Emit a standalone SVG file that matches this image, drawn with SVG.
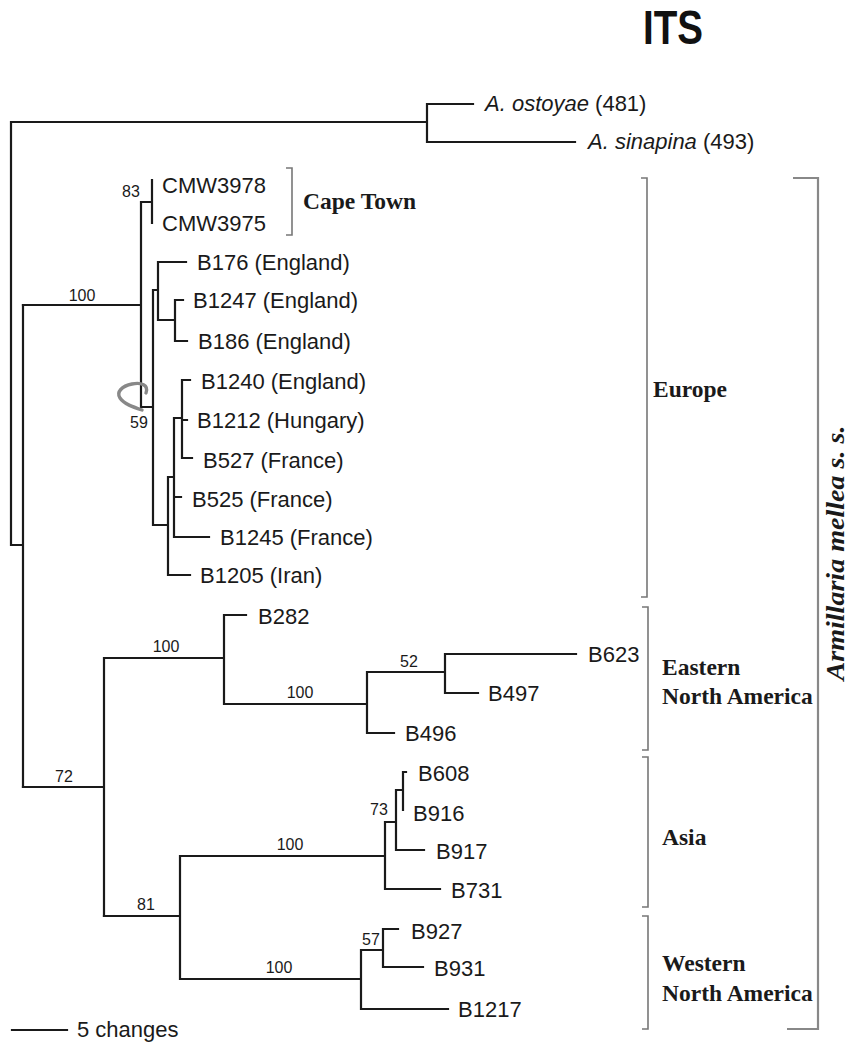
<svg xmlns="http://www.w3.org/2000/svg" width="849" height="1042" viewBox="0 0 849 1042">
<style>
.t{fill:none;stroke:#1a1a1a;stroke-width:2.2;stroke-linecap:square}
.br{fill:none;stroke:#777;stroke-width:1.6}
.br2{fill:none;stroke:#888;stroke-width:2.2}
.lf{font-family:"Liberation Sans",Arial,sans-serif;font-size:22px;fill:#1a1a1a}
.bs{font-family:"Liberation Sans",Arial,sans-serif;font-size:16px;fill:#1a1a1a;text-anchor:middle}
.grp{font-family:"Liberation Serif","Times New Roman",serif;font-size:23.5px;font-weight:bold;fill:#1a1a1a}
</style>
<rect width="849" height="1042" fill="#fff"/>
<text x="643" y="44" font-family="Liberation Sans,Arial,sans-serif" font-weight="bold" font-size="48" fill="#111" textLength="60" lengthAdjust="spacingAndGlyphs">ITS</text>

<g id="connectors">
<path class="t" d="M11,122 V545 M11,122 H427 M427,104 V142 M427,104 H473 M427,142 H575 M11,545 H23 M23,305 V787"/>
<path class="t" d="M23,305 H141 M141,202 V407 M141,202 H152 M152,180 V223 M141,407 H153 M153,290 V525 M153,290 H158 M158,262 V320 M158,262 H186 M158,320 H175 M175,300 V341 M175,300 H183 M175,341 H187 M153,525 H168 M168,477 V575 M168,575 H190 M168,477 H174 M174,418 V537 M174,497 H181 M174,537 H209 M174,418 H182 M182,380 V458 M182,380 H190 M182,420 H187 M182,458 H192"/>
<path class="t" d="M23,787 H104 M104,658 V916 M104,658 H224 M224,615 V704 M224,615 H246 M224,704 H367 M367,672 V733 M367,733 H394 M367,672 H445 M445,654 V693 M445,654 H576 M445,693 H478"/>
<path class="t" d="M104,916 H180 M180,856 V979 M180,856 H385 M385,822 V889 M385,889 H440 M385,822 H396 M396,790 V850 M396,850 H424 M396,790 H403 M403,772 V810 M403,772 H406 M180,979 H361 M361,950 V1009 M361,1009 H448 M361,950 H383 M383,929 V967 M383,929 H398 M383,967 H423"/>
<path class="t" d="M12,1030 H67"/>
<path d="M146,393 C149,385 141,382 132,384 C122,386 116,392 120,398 C124,404 133,407 142,410" fill="none" stroke="#888" stroke-width="3.4" stroke-linecap="round"/>
</g>

<g id="bootstrap">
<text class="bs" x="82" y="301">100</text>
<text class="bs" x="131" y="197">83</text>
<text class="bs" x="139" y="428">59</text>
<text class="bs" x="64" y="782">72</text>
<text class="bs" x="166" y="652">100</text>
<text class="bs" x="300" y="698">100</text>
<text class="bs" x="409" y="667">52</text>
<text class="bs" x="146" y="910">81</text>
<text class="bs" x="290" y="850">100</text>
<text class="bs" x="279" y="973">100</text>
<text class="bs" x="379" y="815">73</text>
<text class="bs" x="371" y="945">57</text>
</g>

<g id="n-ostoyae"><text class="lf" x="485" y="111"><tspan font-style="italic">A. ostoyae</tspan> (481)</text></g>
<g id="n-sinapina"><text class="lf" x="588" y="149"><tspan font-style="italic">A. sinapina</tspan> (493)</text></g>
<g id="n-CMW3978"><text class="lf" x="162" y="193">CMW3978</text></g>
<g id="n-CMW3975"><text class="lf" x="162" y="231">CMW3975</text></g>
<g id="n-B176"><text class="lf" x="197" y="270">B176 (England)</text></g>
<g id="n-B1247"><text class="lf" x="193" y="308">B1247 (England)</text></g>
<g id="n-B186"><text class="lf" x="198" y="349">B186 (England)</text></g>
<g id="n-B1240"><text class="lf" x="201" y="389">B1240 (England)</text></g>
<g id="n-B1212"><text class="lf" x="197" y="428">B1212 (Hungary)</text></g>
<g id="n-B527"><text class="lf" x="203" y="468">B527 (France)</text></g>
<g id="n-B525"><text class="lf" x="192" y="507">B525 (France)</text></g>
<g id="n-B1245"><text class="lf" x="220" y="545">B1245 (France)</text></g>
<g id="n-B1205"><text class="lf" x="200" y="583">B1205 (Iran)</text></g>
<g id="n-B282"><text class="lf" x="258" y="624">B282</text></g>
<g id="n-B623"><text class="lf" x="588" y="662">B623</text></g>
<g id="n-B497"><text class="lf" x="488" y="701">B497</text></g>
<g id="n-B496"><text class="lf" x="405" y="741">B496</text></g>
<g id="n-B608"><text class="lf" x="418" y="781">B608</text></g>
<g id="n-B916"><text class="lf" x="413" y="821">B916</text></g>
<g id="n-B917"><text class="lf" x="436" y="859">B917</text></g>
<g id="n-B731"><text class="lf" x="451" y="898">B731</text></g>
<g id="n-B927"><text class="lf" x="411" y="939">B927</text></g>
<g id="n-B931"><text class="lf" x="434" y="976">B931</text></g>
<g id="n-B1217"><text class="lf" x="458" y="1017">B1217</text></g>

<g id="g-capetown">
<path class="br" d="M286,168 H292 V235 H286"/>
<text class="grp" x="303" y="209">Cape Town</text>
</g>
<g id="g-europe">
<path class="br" d="M641,178 H647 V597 H641"/>
<text class="grp" x="653" y="397">Europe</text>
</g>
<g id="g-ena">
<path class="br" d="M642,607 H648 V750 H642"/>
<text class="grp" x="662" y="675">Eastern</text>
<text class="grp" x="662" y="704">North America</text>
</g>
<g id="g-asia">
<path class="br" d="M642,757 H648 V907 H642"/>
<text class="grp" x="662" y="845">Asia</text>
</g>
<g id="g-wna">
<path class="br" d="M642,916 H648 V1029 H642"/>
<text class="grp" x="662" y="971">Western</text>
<text class="grp" x="662" y="1001">North America</text>
</g>
<g id="g-armillaria">
<path class="br2" d="M793,178 H818 V1029 H787"/>
<text x="0" y="0" transform="translate(844,553) rotate(-90)" font-family="Liberation Serif,Times New Roman,serif" font-size="26" font-weight="bold" font-style="italic" fill="#1a1a1a" text-anchor="middle" textLength="255" lengthAdjust="spacingAndGlyphs">Armillaria mellea s. s.</text>
</g>

<g id="scale">
<text class="lf" x="77" y="1037">5 changes</text>
</g>
</svg>
